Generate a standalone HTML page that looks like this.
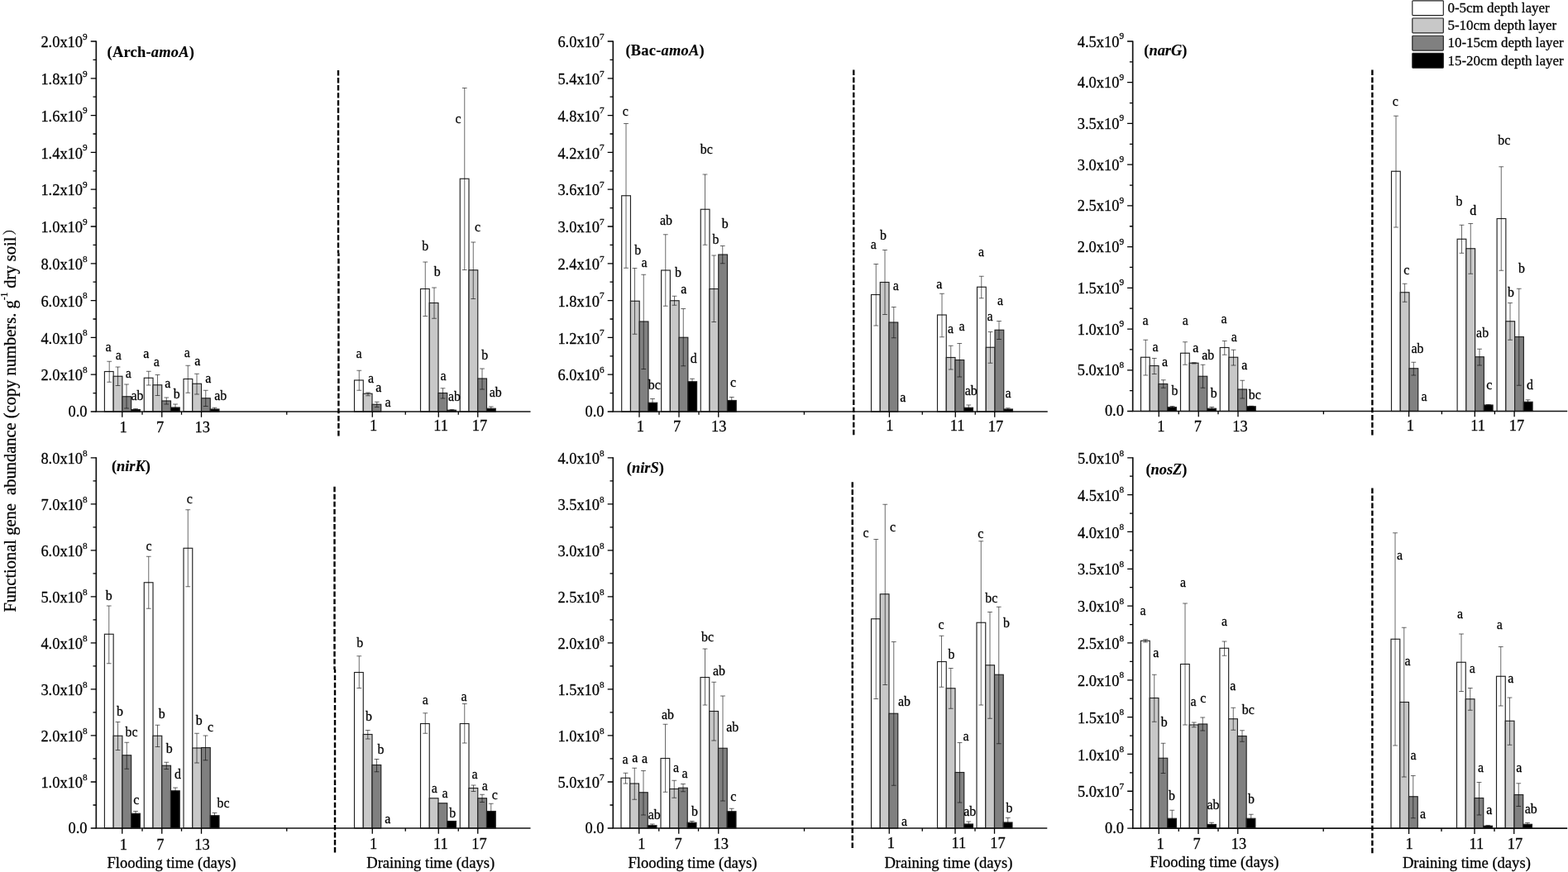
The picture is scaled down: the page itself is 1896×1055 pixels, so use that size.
<!DOCTYPE html>
<html lang="en"><head><meta charset="utf-8"><title>Functional gene abundance</title>
<style>
html,body{margin:0;padding:0;background:#fff;}
body{width:1896px;height:1055px;overflow:hidden;}
svg{display:block;font-family:"Liberation Serif","Noto Serif CJK SC",serif;fill:#000;}
text{stroke:#000;stroke-width:0.26px;stroke-linejoin:round;}
text.ti{stroke-width:0.12px;}
.ax{stroke:#141414;stroke-width:1.7;fill:none;}
.tk{stroke:#000;stroke-width:1.3;fill:none;}
.er{stroke:#000;stroke-opacity:0.62;stroke-width:0.95;fill:none;}
.ds{stroke:#000;stroke-width:2.4;stroke-dasharray:6.4 2.66;fill:none;}
.b{stroke:#222;stroke-width:1.15;}
.yl{font-size:18.4px;text-anchor:end;}
.sp{font-size:11.2px;}
.xl{font-size:18.4px;text-anchor:middle;}
.xt{font-size:18.6px;text-anchor:middle;}
.lt{font-size:15.9px;text-anchor:middle;}
.ti{font-size:18.4px;font-weight:bold;}
.ti .i{font-style:italic;}
.lg{font-size:16.95px;}
.yt{font-size:20.5px;text-anchor:start;}
</style></head><body>
<svg width="1896" height="1055" viewBox="0 0 1896 1055">
<rect x="0" y="0" width="1896" height="1055" fill="#fff"/>
<text class="yt" transform="translate(19.1,740.6) rotate(-90) scale(1,1.07)">Functional gene  abundance (copy numbers. g<tspan dy="-9" style="font-size:11.5px">-1</tspan><tspan dy="9"> dry soil</tspan><tspan dx="2.2" dy="-1.4" style="font-size:15.5px">）</tspan></text>
<g id="P1">
<rect class="b" x="126.4" y="449.5" width="10.75" height="48.5" fill="#ffffff"/>
<rect class="b" x="137.15" y="455.25" width="10.75" height="42.75" fill="#c8c8c8"/>
<rect class="b" x="147.9" y="479.75" width="10.75" height="18.25" fill="#808080"/>
<rect class="b" x="158.65" y="495.6" width="10.75" height="2.4" fill="#000000"/>
<rect class="b" x="174.25" y="457.25" width="10.75" height="40.75" fill="#ffffff"/>
<rect class="b" x="185" y="465.75" width="10.75" height="32.25" fill="#c8c8c8"/>
<rect class="b" x="195.75" y="485" width="10.75" height="13" fill="#808080"/>
<rect class="b" x="206.5" y="493" width="10.75" height="5" fill="#000000"/>
<rect class="b" x="222" y="458.5" width="10.75" height="39.5" fill="#ffffff"/>
<rect class="b" x="232.75" y="464.25" width="10.75" height="33.75" fill="#c8c8c8"/>
<rect class="b" x="243.5" y="481.75" width="10.75" height="16.25" fill="#808080"/>
<rect class="b" x="254.25" y="495" width="10.75" height="3" fill="#000000"/>
<rect class="b" x="428.5" y="460" width="10.75" height="38" fill="#ffffff"/>
<rect class="b" x="439.25" y="476.25" width="10.75" height="21.75" fill="#c8c8c8"/>
<rect class="b" x="450" y="489.25" width="10.75" height="8.75" fill="#808080"/>
<rect class="b" x="508.5" y="349.5" width="10.75" height="148.5" fill="#ffffff"/>
<rect class="b" x="519.25" y="366.5" width="10.75" height="131.5" fill="#c8c8c8"/>
<rect class="b" x="530" y="475.5" width="10.75" height="22.5" fill="#808080"/>
<rect class="b" x="540.75" y="496.25" width="10.75" height="1.75" fill="#000000"/>
<rect class="b" x="556.25" y="216.25" width="10.75" height="281.75" fill="#ffffff"/>
<rect class="b" x="567" y="326.75" width="10.75" height="171.25" fill="#c8c8c8"/>
<rect class="b" x="577.75" y="458" width="10.75" height="40" fill="#808080"/>
<rect class="b" x="588.5" y="494.25" width="10.75" height="3.75" fill="#000000"/>
<path class="er" d="M132.2 437.25V462.25M129.3 437.25h5.8M129.3 462.25h5.8M142.5 444V466.5M139.6 444h5.8M139.6 466.5h5.8M153 465V494M150.1 465h5.8M150.1 494h5.8M164 494.5V497M161.1 494.5h5.8M161.1 497h5.8M179.75 449.25V466M176.85 449.25h5.8M176.85 466h5.8M190.5 453.5V478.5M187.6 453.5h5.8M187.6 478.5h5.8M201.25 481V489M198.35 481h5.8M198.35 489h5.8M212 489V496M209.1 489h5.8M209.1 496h5.8M227.25 442.25V475.25M224.35 442.25h5.8M224.35 475.25h5.8M238 452.25V477M235.1 452.25h5.8M235.1 477h5.8M248.75 472.25V491.5M245.85 472.25h5.8M245.85 491.5h5.8M259.5 493.25V497M256.6 493.25h5.8M256.6 497h5.8M434.25 448.25V472.25M431.35 448.25h5.8M431.35 472.25h5.8M445 475V478.75M442.1 475h5.8M442.1 478.75h5.8M455.75 486.25V492.5M452.85 486.25h5.8M452.85 492.5h5.8M514.25 317V382.5M511.35 317h5.8M511.35 382.5h5.8M525 348V385.25M522.1 348h5.8M522.1 385.25h5.8M535.5 469.75V482M532.6 469.75h5.8M532.6 482h5.8M546.5 495.5V497M543.6 495.5h5.8M543.6 497h5.8M561.75 106.5V326.5M558.85 106.5h5.8M558.85 326.5h5.8M572.25 293V361.5M569.35 293h5.8M569.35 361.5h5.8M583 446V471M580.1 446h5.8M580.1 471h5.8M593.75 492V496M590.85 492h5.8M590.85 496h5.8"/>
<path class="ax" d="M116.3 49.4V498H641.5"/>
<path class="tk" d="M116.3 498h-6.6M116.3 475.6h-3.8M116.3 453.2h-6.6M116.3 430.8h-3.8M116.3 408.4h-6.6M116.3 386h-3.8M116.3 363.6h-6.6M116.3 341.2h-3.8M116.3 318.8h-6.6M116.3 296.4h-3.8M116.3 274h-6.6M116.3 251.6h-3.8M116.3 229.2h-6.6M116.3 206.8h-3.8M116.3 184.4h-6.6M116.3 162h-3.8M116.3 139.6h-6.6M116.3 117.2h-3.8M116.3 94.8h-6.6M116.3 72.4h-3.8M116.3 50h-6.6M147.75 498v6.8M195.75 498v6.8M243.5 498v6.8M450.25 498v6.8M530.25 498v6.8M577.75 498v6.8M172 498v3.8M219.5 498v3.8M346.75 498v3.8M490.25 498v3.8M554.25 498v3.8"/>
<path class="ds" d="M409 85V306.25"/>
<path class="ds" d="M409.4 527.5V306.25"/>
<text class="yl" x="105.5" y="503.8">0.0</text>
<text class="yl" x="105.6" y="460.4">2.0x10<tspan class="sp" dy="-9.5">8</tspan></text>
<text class="yl" x="105.6" y="415.6">4.0x10<tspan class="sp" dy="-9.5">8</tspan></text>
<text class="yl" x="105.6" y="370.8">6.0x10<tspan class="sp" dy="-9.5">8</tspan></text>
<text class="yl" x="105.6" y="326">8.0x10<tspan class="sp" dy="-9.5">8</tspan></text>
<text class="yl" x="105.6" y="281.2">1.0x10<tspan class="sp" dy="-9.5">9</tspan></text>
<text class="yl" x="105.6" y="236.4">1.2x10<tspan class="sp" dy="-9.5">9</tspan></text>
<text class="yl" x="105.6" y="191.6">1.4x10<tspan class="sp" dy="-9.5">9</tspan></text>
<text class="yl" x="105.6" y="146.8">1.6x10<tspan class="sp" dy="-9.5">9</tspan></text>
<text class="yl" x="105.6" y="102">1.8x10<tspan class="sp" dy="-9.5">9</tspan></text>
<text class="yl" x="105.6" y="57.2">2.0x10<tspan class="sp" dy="-9.5">9</tspan></text>
<text class="xl" x="149.2" y="522.6">1</text>
<text class="xl" x="193.6" y="522.6">7</text>
<text class="xl" x="244.7" y="522.6">13</text>
<text class="xl" x="451.5" y="520.6">1</text>
<text class="xl" x="533" y="520.6">11</text>
<text class="xl" x="580" y="521.2">17</text>
<text class="ti" x="129.5" y="69.2" letter-spacing="0.26">(Arch-<tspan class="i">amoA</tspan>)</text>
<text class="lt" x="131" y="424.5">a</text>
<text class="lt" x="143.25" y="435.25">a</text>
<text class="lt" x="155.25" y="456.5">a</text>
<text class="lt" x="166" y="483.5">ab</text>
<text class="lt" x="176.75" y="432.75">a</text>
<text class="lt" x="189.25" y="443">a</text>
<text class="lt" x="202.75" y="469">a</text>
<text class="lt" x="213.75" y="481.5">b</text>
<text class="lt" x="226.25" y="431.5">a</text>
<text class="lt" x="238.75" y="441.5">a</text>
<text class="lt" x="251.75" y="462.75">a</text>
<text class="lt" x="266.75" y="484">ab</text>
<text class="lt" x="434" y="433">a</text>
<text class="lt" x="448.5" y="463.25">a</text>
<text class="lt" x="457.75" y="473.75">a</text>
<text class="lt" x="469" y="492">a</text>
<text class="lt" x="514.25" y="302.5">b</text>
<text class="lt" x="528.75" y="333.75">b</text>
<text class="lt" x="536" y="460">a</text>
<text class="lt" x="549.5" y="485">ab</text>
<text class="lt" x="554" y="149">c</text>
<text class="lt" x="577.5" y="280">c</text>
<text class="lt" x="586.25" y="434.5">b</text>
<text class="lt" x="599.25" y="479.5">ab</text>
</g>
<g id="P2">
<rect class="b" x="751.7" y="236.75" width="10.75" height="261.25" fill="#ffffff"/>
<rect class="b" x="762.45" y="364.25" width="10.75" height="133.75" fill="#c8c8c8"/>
<rect class="b" x="773.2" y="389" width="10.75" height="109" fill="#808080"/>
<rect class="b" x="783.95" y="487.25" width="10.75" height="10.75" fill="#000000"/>
<rect class="b" x="799.6" y="327" width="10.75" height="171" fill="#ffffff"/>
<rect class="b" x="810.35" y="363.75" width="10.75" height="134.25" fill="#c8c8c8"/>
<rect class="b" x="821.1" y="408.25" width="10.75" height="89.75" fill="#808080"/>
<rect class="b" x="831.85" y="461.75" width="10.75" height="36.25" fill="#000000"/>
<rect class="b" x="847.25" y="253.25" width="10.75" height="244.75" fill="#ffffff"/>
<rect class="b" x="858" y="349.5" width="10.75" height="148.5" fill="#c8c8c8"/>
<rect class="b" x="868.75" y="308" width="10.75" height="190" fill="#808080"/>
<rect class="b" x="879.5" y="484.5" width="10.75" height="13.5" fill="#000000"/>
<rect class="b" x="1053.5" y="356.5" width="10.75" height="141.5" fill="#ffffff"/>
<rect class="b" x="1064.25" y="341.5" width="10.75" height="156.5" fill="#c8c8c8"/>
<rect class="b" x="1075" y="390" width="10.75" height="108" fill="#808080"/>
<rect class="b" x="1133.5" y="381" width="10.75" height="117" fill="#ffffff"/>
<rect class="b" x="1144.25" y="432.5" width="10.75" height="65.5" fill="#c8c8c8"/>
<rect class="b" x="1155" y="435.5" width="10.75" height="62.5" fill="#808080"/>
<rect class="b" x="1165.75" y="493.25" width="10.75" height="4.75" fill="#000000"/>
<rect class="b" x="1181.5" y="347.25" width="10.75" height="150.75" fill="#ffffff"/>
<rect class="b" x="1192.25" y="420.25" width="10.75" height="77.75" fill="#c8c8c8"/>
<rect class="b" x="1203" y="399.25" width="10.75" height="98.75" fill="#808080"/>
<rect class="b" x="1213.75" y="495" width="10.75" height="3" fill="#000000"/>
<path class="er" d="M757 149.5V324.25M754.1 149.5h5.8M754.1 324.25h5.8M767.5 324.5V404.25M764.6 324.5h5.8M764.6 404.25h5.8M778.25 332.25V446.5M775.35 332.25h5.8M775.35 446.5h5.8M789 482.5V492M786.1 482.5h5.8M786.1 492h5.8M804.75 283.75V370.25M801.85 283.75h5.8M801.85 370.25h5.8M815.5 358.25V369.25M812.6 358.25h5.8M812.6 369.25h5.8M826.25 373.5V442.75M823.35 373.5h5.8M823.35 442.75h5.8M837 458.25V465M834.1 458.25h5.8M834.1 465h5.8M852.5 211V296.25M849.6 211h5.8M849.6 296.25h5.8M863.25 309V389.5M860.35 309h5.8M860.35 389.5h5.8M873.75 297.5V318.75M870.85 297.5h5.8M870.85 318.75h5.8M884.75 480.5V488M881.85 480.5h5.8M881.85 488h5.8M1059.25 319.5V394M1056.35 319.5h5.8M1056.35 394h5.8M1070 302.5V380.5M1067.1 302.5h5.8M1067.1 380.5h5.8M1080.75 371.5V408.75M1077.85 371.5h5.8M1077.85 408.75h5.8M1139 355.25V407.75M1136.1 355.25h5.8M1136.1 407.75h5.8M1149.75 418.25V447M1146.85 418.25h5.8M1146.85 447h5.8M1160.25 415.5V456M1157.35 415.5h5.8M1157.35 456h5.8M1171.25 490V496M1168.35 490h5.8M1168.35 496h5.8M1186.75 334.25V360.75M1183.85 334.25h5.8M1183.85 360.75h5.8M1197.5 401.5V439.25M1194.6 401.5h5.8M1194.6 439.25h5.8M1208 388.5V410.5M1205.1 388.5h5.8M1205.1 410.5h5.8M1218.75 493.75V496.5M1215.85 493.75h5.8M1215.85 496.5h5.8"/>
<path class="ax" d="M741.3 49.4V498H1266.75"/>
<path class="tk" d="M741.3 498h-6.6M741.3 475.6h-3.8M741.3 453.2h-6.6M741.3 430.8h-3.8M741.3 408.4h-6.6M741.3 386h-3.8M741.3 363.6h-6.6M741.3 341.2h-3.8M741.3 318.8h-6.6M741.3 296.4h-3.8M741.3 274h-6.6M741.3 251.6h-3.8M741.3 229.2h-6.6M741.3 206.8h-3.8M741.3 184.4h-6.6M741.3 162h-3.8M741.3 139.6h-6.6M741.3 117.2h-3.8M741.3 94.8h-6.6M741.3 72.4h-3.8M741.3 50h-6.6M773 498v6.8M821 498v6.8M868.75 498v6.8M1075.4 498v6.8M1155.25 498v6.8M1202.75 498v6.8M797 498v3.8M845 498v3.8M972.4 498v3.8M1115.25 498v3.8M1179.25 498v3.8"/>
<path class="ds" d="M1032.25 84.5V305.38"/>
<path class="ds" d="M1032.25 526.25V305.38"/>
<text class="yl" x="730.5" y="503.8">0.0</text>
<text class="yl" x="730.6" y="460.4">6.0x10<tspan class="sp" dy="-9.5">6</tspan></text>
<text class="yl" x="730.6" y="415.6">1.2x10<tspan class="sp" dy="-9.5">7</tspan></text>
<text class="yl" x="730.6" y="370.8">1.8x10<tspan class="sp" dy="-9.5">7</tspan></text>
<text class="yl" x="730.6" y="326">2.4x10<tspan class="sp" dy="-9.5">7</tspan></text>
<text class="yl" x="730.6" y="281.2">3.0x10<tspan class="sp" dy="-9.5">7</tspan></text>
<text class="yl" x="730.6" y="236.4">3.6x10<tspan class="sp" dy="-9.5">7</tspan></text>
<text class="yl" x="730.6" y="191.6">4.2x10<tspan class="sp" dy="-9.5">7</tspan></text>
<text class="yl" x="730.6" y="146.8">4.8x10<tspan class="sp" dy="-9.5">7</tspan></text>
<text class="yl" x="730.6" y="102">5.4x10<tspan class="sp" dy="-9.5">7</tspan></text>
<text class="yl" x="730.6" y="57.2">6.0x10<tspan class="sp" dy="-9.5">7</tspan></text>
<text class="xl" x="774.4" y="522">1</text>
<text class="xl" x="818.5" y="522">7</text>
<text class="xl" x="869.3" y="522">13</text>
<text class="xl" x="1075.8" y="521">1</text>
<text class="xl" x="1157.5" y="521">11</text>
<text class="xl" x="1204" y="521.9">17</text>
<text class="ti" x="756.4" y="67.4" letter-spacing="0.26">(Bac-<tspan class="i">amoA</tspan>)</text>
<text class="lt" x="756.25" y="140">c</text>
<text class="lt" x="771.25" y="308">b</text>
<text class="lt" x="779" y="322.5">a</text>
<text class="lt" x="791.25" y="470.5">bc</text>
<text class="lt" x="805.5" y="272">ab</text>
<text class="lt" x="820" y="334.5">b</text>
<text class="lt" x="826.75" y="355">a</text>
<text class="lt" x="838.75" y="439.25">d</text>
<text class="lt" x="854.25" y="185.75">bc</text>
<text class="lt" x="865.5" y="295">b</text>
<text class="lt" x="876.75" y="276.25">b</text>
<text class="lt" x="886.5" y="468.25">c</text>
<text class="lt" x="1056.25" y="300.5">a</text>
<text class="lt" x="1068" y="290">b</text>
<text class="lt" x="1083.25" y="350.75">a</text>
<text class="lt" x="1091.75" y="485.5">a</text>
<text class="lt" x="1135.75" y="349.25">a</text>
<text class="lt" x="1149.5" y="402.5">a</text>
<text class="lt" x="1163" y="400">a</text>
<text class="lt" x="1174.25" y="478">ab</text>
<text class="lt" x="1186.5" y="310">a</text>
<text class="lt" x="1197" y="388">a</text>
<text class="lt" x="1209.5" y="368.75">a</text>
<text class="lt" x="1219" y="480.5">a</text>
</g>
<g id="P3">
<rect class="b" x="1379.5" y="432.25" width="10.75" height="65.25" fill="#ffffff"/>
<rect class="b" x="1390.25" y="442.5" width="10.75" height="55" fill="#c8c8c8"/>
<rect class="b" x="1401" y="464.5" width="10.75" height="33" fill="#808080"/>
<rect class="b" x="1411.75" y="492.75" width="10.75" height="4.75" fill="#000000"/>
<rect class="b" x="1427.5" y="427.25" width="10.75" height="70.25" fill="#ffffff"/>
<rect class="b" x="1438.25" y="439.25" width="10.75" height="58.25" fill="#c8c8c8"/>
<rect class="b" x="1449" y="455.25" width="10.75" height="42.25" fill="#808080"/>
<rect class="b" x="1459.75" y="494.25" width="10.75" height="3.25" fill="#000000"/>
<rect class="b" x="1475.25" y="420.5" width="10.75" height="77" fill="#ffffff"/>
<rect class="b" x="1486" y="432.25" width="10.75" height="65.25" fill="#c8c8c8"/>
<rect class="b" x="1496.75" y="471" width="10.75" height="26.5" fill="#808080"/>
<rect class="b" x="1507.5" y="491.75" width="10.75" height="5.75" fill="#000000"/>
<rect class="b" x="1682.5" y="207.25" width="10.75" height="290.25" fill="#ffffff"/>
<rect class="b" x="1693.25" y="353.75" width="10.75" height="143.75" fill="#c8c8c8"/>
<rect class="b" x="1704" y="445.75" width="10.75" height="51.75" fill="#808080"/>
<rect class="b" x="1762.1" y="289.25" width="10.75" height="208.25" fill="#ffffff"/>
<rect class="b" x="1772.85" y="300.75" width="10.75" height="196.75" fill="#c8c8c8"/>
<rect class="b" x="1783.6" y="431.75" width="10.75" height="65.75" fill="#808080"/>
<rect class="b" x="1794.35" y="490" width="10.75" height="7.5" fill="#000000"/>
<rect class="b" x="1810.1" y="264.5" width="10.75" height="233" fill="#ffffff"/>
<rect class="b" x="1820.85" y="388.75" width="10.75" height="108.75" fill="#c8c8c8"/>
<rect class="b" x="1831.6" y="407.5" width="10.75" height="90" fill="#808080"/>
<rect class="b" x="1842.35" y="486.25" width="10.75" height="11.25" fill="#000000"/>
<path class="er" d="M1385.25 411.25V454M1382.35 411.25h5.8M1382.35 454h5.8M1395.75 433.5V452.5M1392.85 433.5h5.8M1392.85 452.5h5.8M1406.75 459.75V469.25M1403.85 459.75h5.8M1403.85 469.25h5.8M1417.5 491.5V494M1414.6 491.5h5.8M1414.6 494h5.8M1433 413.75V441.25M1430.1 413.75h5.8M1430.1 441.25h5.8M1443.75 438.75V440M1440.85 438.75h5.8M1440.85 440h5.8M1454.5 441.25V469.25M1451.6 441.25h5.8M1451.6 469.25h5.8M1465.25 492.5V496M1462.35 492.5h5.8M1462.35 496h5.8M1480.75 412.5V429.25M1477.85 412.5h5.8M1477.85 429.25h5.8M1491.5 423.25V442M1488.6 423.25h5.8M1488.6 442h5.8M1502.25 460.25V482M1499.35 460.25h5.8M1499.35 482h5.8M1513 491.25V492.5M1510.1 491.25h5.8M1510.1 492.5h5.8M1688 140.25V275M1685.1 140.25h5.8M1685.1 275h5.8M1698.6 343.25V365.25M1695.7 343.25h5.8M1695.7 365.25h5.8M1709.3 438.25V454M1706.4 438.25h5.8M1706.4 454h5.8M1767.5 272.25V306.25M1764.6 272.25h5.8M1764.6 306.25h5.8M1778.25 270.5V331.25M1775.35 270.5h5.8M1775.35 331.25h5.8M1789 422.25V442M1786.1 422.25h5.8M1786.1 442h5.8M1799.75 489.5V491M1796.85 489.5h5.8M1796.85 491h5.8M1815.25 201.75V327.25M1812.35 201.75h5.8M1812.35 327.25h5.8M1826 366.5V411.25M1823.1 366.5h5.8M1823.1 411.25h5.8M1836.75 349.25V466.25M1833.85 349.25h5.8M1833.85 466.25h5.8M1847.5 483.75V489M1844.6 483.75h5.8M1844.6 489h5.8"/>
<path class="ax" d="M1369.7 49.4V497.5H1895.2"/>
<path class="tk" d="M1369.7 497.5h-6.6M1369.7 472.64h-3.8M1369.7 447.78h-6.6M1369.7 422.92h-3.8M1369.7 398.06h-6.6M1369.7 373.19h-3.8M1369.7 348.33h-6.6M1369.7 323.47h-3.8M1369.7 298.61h-6.6M1369.7 273.75h-3.8M1369.7 248.89h-6.6M1369.7 224.03h-3.8M1369.7 199.17h-6.6M1369.7 174.31h-3.8M1369.7 149.44h-6.6M1369.7 124.58h-3.8M1369.7 99.72h-6.6M1369.7 74.86h-3.8M1369.7 50h-6.6M1401.25 497.5v6.8M1449.25 497.5v6.8M1497 497.5v6.8M1703.6 497.5v6.8M1783.3 497.5v6.8M1831.1 497.5v6.8M1425.25 497.5v3.8M1473 497.5v3.8M1600.4 497.5v3.8M1743.4 497.5v3.8M1807.4 497.5v3.8"/>
<path class="ds" d="M1659.4 84.5V305.5"/>
<path class="ds" d="M1659.4 526.5V305.5"/>
<text class="yl" x="1358.9" y="502.6">0.0</text>
<text class="yl" x="1359" y="454.28">5.0x10<tspan class="sp" dy="-9.5">8</tspan></text>
<text class="yl" x="1359" y="404.56">1.0x10<tspan class="sp" dy="-9.5">9</tspan></text>
<text class="yl" x="1359" y="354.83">1.5x10<tspan class="sp" dy="-9.5">9</tspan></text>
<text class="yl" x="1359" y="305.11">2.0x10<tspan class="sp" dy="-9.5">9</tspan></text>
<text class="yl" x="1359" y="255.39">2.5x10<tspan class="sp" dy="-9.5">9</tspan></text>
<text class="yl" x="1359" y="205.67">3.0x10<tspan class="sp" dy="-9.5">9</tspan></text>
<text class="yl" x="1359" y="155.94">3.5x10<tspan class="sp" dy="-9.5">9</tspan></text>
<text class="yl" x="1359" y="106.22">4.0x10<tspan class="sp" dy="-9.5">9</tspan></text>
<text class="yl" x="1359" y="56.5">4.5x10<tspan class="sp" dy="-9.5">9</tspan></text>
<text class="xl" x="1403.75" y="521.9">1</text>
<text class="xl" x="1448.25" y="521.9">7</text>
<text class="xl" x="1499.5" y="521.9">13</text>
<text class="xl" x="1705.3" y="520.8">1</text>
<text class="xl" x="1787.2" y="520.8">11</text>
<text class="xl" x="1833.9" y="521.3">17</text>
<text class="ti" x="1383.3" y="66.9">(<tspan class="i">narG</tspan>)</text>
<text class="lt" x="1385" y="392.5">a</text>
<text class="lt" x="1397" y="425">a</text>
<text class="lt" x="1408.5" y="443.25">a</text>
<text class="lt" x="1420.5" y="477.5">b</text>
<text class="lt" x="1433.25" y="393">a</text>
<text class="lt" x="1445.75" y="425.75">a</text>
<text class="lt" x="1460.75" y="435">ab</text>
<text class="lt" x="1467.75" y="481">b</text>
<text class="lt" x="1480" y="390.5">a</text>
<text class="lt" x="1492.25" y="412.5">a</text>
<text class="lt" x="1504.75" y="447">a</text>
<text class="lt" x="1517.25" y="482.5">bc</text>
<text class="lt" x="1687.25" y="127.5">c</text>
<text class="lt" x="1700.75" y="331.75">c</text>
<text class="lt" x="1714" y="427.25">ab</text>
<text class="lt" x="1722" y="485">a</text>
<text class="lt" x="1764.5" y="249.25">b</text>
<text class="lt" x="1781.3" y="260">d</text>
<text class="lt" x="1792.6" y="408.25">ab</text>
<text class="lt" x="1800.9" y="470.5">c</text>
<text class="lt" x="1818.8" y="175">bc</text>
<text class="lt" x="1827.1" y="359">b</text>
<text class="lt" x="1840.1" y="329.75">b</text>
<text class="lt" x="1850.1" y="470.5">d</text>
</g>
<g id="P4">
<rect class="b" x="126.4" y="767.25" width="10.75" height="234.75" fill="#ffffff"/>
<rect class="b" x="137.15" y="890.25" width="10.75" height="111.75" fill="#c8c8c8"/>
<rect class="b" x="147.9" y="913.75" width="10.75" height="88.25" fill="#808080"/>
<rect class="b" x="158.65" y="984.25" width="10.75" height="17.75" fill="#000000"/>
<rect class="b" x="174.25" y="704.75" width="10.75" height="297.25" fill="#ffffff"/>
<rect class="b" x="185" y="890.25" width="10.75" height="111.75" fill="#c8c8c8"/>
<rect class="b" x="195.75" y="926.25" width="10.75" height="75.75" fill="#808080"/>
<rect class="b" x="206.5" y="956.75" width="10.75" height="45.25" fill="#000000"/>
<rect class="b" x="222" y="663.25" width="10.75" height="338.75" fill="#ffffff"/>
<rect class="b" x="232.75" y="905" width="10.75" height="97" fill="#c8c8c8"/>
<rect class="b" x="243.5" y="904.5" width="10.75" height="97.5" fill="#808080"/>
<rect class="b" x="254.25" y="986.75" width="10.75" height="15.25" fill="#000000"/>
<rect class="b" x="428.5" y="813.5" width="10.75" height="188.5" fill="#ffffff"/>
<rect class="b" x="439.25" y="888.5" width="10.75" height="113.5" fill="#c8c8c8"/>
<rect class="b" x="450" y="925.5" width="10.75" height="76.5" fill="#808080"/>
<rect class="b" x="508.5" y="875.5" width="10.75" height="126.5" fill="#ffffff"/>
<rect class="b" x="519.25" y="965.75" width="10.75" height="36.25" fill="#c8c8c8"/>
<rect class="b" x="530" y="971.75" width="10.75" height="30.25" fill="#808080"/>
<rect class="b" x="540.75" y="993.5" width="10.75" height="8.5" fill="#000000"/>
<rect class="b" x="556.25" y="875.5" width="10.75" height="126.5" fill="#ffffff"/>
<rect class="b" x="567" y="953.5" width="10.75" height="48.5" fill="#c8c8c8"/>
<rect class="b" x="577.75" y="965.75" width="10.75" height="36.25" fill="#808080"/>
<rect class="b" x="588.5" y="981.5" width="10.75" height="20.5" fill="#000000"/>
<path class="er" d="M131.75 733V802.75M128.85 733h5.8M128.85 802.75h5.8M142.5 873.5V907.5M139.6 873.5h5.8M139.6 907.5h5.8M153.25 898.25V930.25M150.35 898.25h5.8M150.35 930.25h5.8M164 981.5V987M161.1 981.5h5.8M161.1 987h5.8M179.75 673.25V736.25M176.85 673.25h5.8M176.85 736.25h5.8M190.5 877.25V903.5M187.6 877.25h5.8M187.6 903.5h5.8M201.25 922.25V930.5M198.35 922.25h5.8M198.35 930.5h5.8M212 953V960M209.1 953h5.8M209.1 960h5.8M227.25 616.75V709.75M224.35 616.75h5.8M224.35 709.75h5.8M238 887.25V923M235.1 887.25h5.8M235.1 923h5.8M248.5 890V919.75M245.6 890h5.8M245.6 919.75h5.8M259.5 983.5V990M256.6 983.5h5.8M256.6 990h5.8M434.25 793.75V832.5M431.35 793.75h5.8M431.35 832.5h5.8M444.75 883.5V894M441.85 883.5h5.8M441.85 894h5.8M455.5 918.5V933.75M452.6 918.5h5.8M452.6 933.75h5.8M514.25 862.75V887.25M511.35 862.75h5.8M511.35 887.25h5.8M561.75 851.5V899M558.85 851.5h5.8M558.85 899h5.8M572.5 950V957.5M569.6 950h5.8M569.6 957.5h5.8M583 961.25V970.5M580.1 961.25h5.8M580.1 970.5h5.8M593.75 972.25V990M590.85 972.25h5.8M590.85 990h5.8"/>
<path class="ax" d="M116.3 553.2V1002H641.5"/>
<path class="tk" d="M116.3 1002h-6.6M116.3 973.99h-3.8M116.3 945.98h-6.6M116.3 917.96h-3.8M116.3 889.95h-6.6M116.3 861.94h-3.8M116.3 833.92h-6.6M116.3 805.91h-3.8M116.3 777.9h-6.6M116.3 749.89h-3.8M116.3 721.88h-6.6M116.3 693.86h-3.8M116.3 665.85h-6.6M116.3 637.84h-3.8M116.3 609.82h-6.6M116.3 581.81h-3.8M116.3 553.8h-6.6M147.75 1002v6.8M195.75 1002v6.8M243.5 1002v6.8M450.25 1002v6.8M530.25 1002v6.8M577.75 1002v6.8M172 1002v3.8M219.5 1002v3.8M346.75 1002v3.8M490.25 1002v3.8M554.25 1002v3.8"/>
<path class="ds" d="M404.5 588.75V810.12"/>
<path class="ds" d="M405 1031.5V810.12"/>
<text class="yl" x="105.5" y="1007.8">0.0</text>
<text class="yl" x="105.6" y="953.18">1.0x10<tspan class="sp" dy="-9.5">8</tspan></text>
<text class="yl" x="105.6" y="897.15">2.0x10<tspan class="sp" dy="-9.5">8</tspan></text>
<text class="yl" x="105.6" y="841.12">3.0x10<tspan class="sp" dy="-9.5">8</tspan></text>
<text class="yl" x="105.6" y="785.1">4.0x10<tspan class="sp" dy="-9.5">8</tspan></text>
<text class="yl" x="105.6" y="729.08">5.0x10<tspan class="sp" dy="-9.5">8</tspan></text>
<text class="yl" x="105.6" y="673.05">6.0x10<tspan class="sp" dy="-9.5">8</tspan></text>
<text class="yl" x="105.6" y="617.02">7.0x10<tspan class="sp" dy="-9.5">8</tspan></text>
<text class="yl" x="105.6" y="561">8.0x10<tspan class="sp" dy="-9.5">8</tspan></text>
<text class="xl" x="149.25" y="1027.6">1</text>
<text class="xl" x="193.75" y="1027.6">7</text>
<text class="xl" x="244.5" y="1027.6">13</text>
<text class="xl" x="451.5" y="1026.7">1</text>
<text class="xl" x="532.75" y="1026.7">11</text>
<text class="xl" x="579.5" y="1026.7">17</text>
<text class="xt" x="207.5" y="1050.3">Flooding time (days)</text>
<text class="xt" x="520.7" y="1050.2">Draining time (days)</text>
<text class="ti" x="134.9" y="569.7">(<tspan class="i">nirK</tspan>)</text>
<text class="lt" x="131.75" y="726">b</text>
<text class="lt" x="145" y="865.5">b</text>
<text class="lt" x="159" y="891">bc</text>
<text class="lt" x="164.75" y="972.75">c</text>
<text class="lt" x="180" y="665.5">c</text>
<text class="lt" x="195.75" y="869">b</text>
<text class="lt" x="204.75" y="910.5">b</text>
<text class="lt" x="215" y="942.25">d</text>
<text class="lt" x="229.25" y="609.25">c</text>
<text class="lt" x="240.75" y="876.75">b</text>
<text class="lt" x="254.5" y="884.75">c</text>
<text class="lt" x="270" y="976.75">bc</text>
<text class="lt" x="435.25" y="783">b</text>
<text class="lt" x="446" y="871.5">b</text>
<text class="lt" x="460.5" y="912.25">b</text>
<text class="lt" x="468.75" y="996">a</text>
<text class="lt" x="514.25" y="852.25">a</text>
<text class="lt" x="525.25" y="959.25">a</text>
<text class="lt" x="538" y="965.25">a</text>
<text class="lt" x="547.25" y="988.5">b</text>
<text class="lt" x="561" y="848">a</text>
<text class="lt" x="574" y="941.5">a</text>
<text class="lt" x="586.25" y="955.5">a</text>
<text class="lt" x="598.25" y="966.75">c</text>
</g>
<g id="P5">
<rect class="b" x="751" y="941.25" width="10.75" height="60.75" fill="#ffffff"/>
<rect class="b" x="761.75" y="948" width="10.75" height="54" fill="#c8c8c8"/>
<rect class="b" x="772.5" y="958.75" width="10.75" height="43.25" fill="#808080"/>
<rect class="b" x="783.25" y="998.75" width="10.75" height="3.25" fill="#000000"/>
<rect class="b" x="799" y="917.5" width="10.75" height="84.5" fill="#ffffff"/>
<rect class="b" x="809.75" y="954.5" width="10.75" height="47.5" fill="#c8c8c8"/>
<rect class="b" x="820.5" y="953.25" width="10.75" height="48.75" fill="#808080"/>
<rect class="b" x="831.25" y="995.25" width="10.75" height="6.75" fill="#000000"/>
<rect class="b" x="847" y="819.5" width="10.75" height="182.5" fill="#ffffff"/>
<rect class="b" x="857.75" y="860.5" width="10.75" height="141.5" fill="#c8c8c8"/>
<rect class="b" x="868.5" y="905.25" width="10.75" height="96.75" fill="#808080"/>
<rect class="b" x="879.25" y="981.75" width="10.75" height="20.25" fill="#000000"/>
<rect class="b" x="1053.5" y="748.75" width="10.75" height="253.25" fill="#ffffff"/>
<rect class="b" x="1064.25" y="718.75" width="10.75" height="283.25" fill="#c8c8c8"/>
<rect class="b" x="1075" y="863.25" width="10.75" height="138.75" fill="#808080"/>
<rect class="b" x="1133.5" y="800.5" width="10.75" height="201.5" fill="#ffffff"/>
<rect class="b" x="1144.25" y="832.75" width="10.75" height="169.25" fill="#c8c8c8"/>
<rect class="b" x="1155" y="934.5" width="10.75" height="67.5" fill="#808080"/>
<rect class="b" x="1165.75" y="997" width="10.75" height="5" fill="#000000"/>
<rect class="b" x="1181" y="753.25" width="10.75" height="248.75" fill="#ffffff"/>
<rect class="b" x="1191.75" y="804.75" width="10.75" height="197.25" fill="#c8c8c8"/>
<rect class="b" x="1202.5" y="816.25" width="10.75" height="185.75" fill="#808080"/>
<rect class="b" x="1213.25" y="995" width="10.75" height="7" fill="#000000"/>
<path class="er" d="M756.5 935.25V948M753.6 935.25h5.8M753.6 948h5.8M767.25 929.25V967.25M764.35 929.25h5.8M764.35 967.25h5.8M778 932.5V986M775.1 932.5h5.8M775.1 986h5.8M788.75 997V1000M785.85 997h5.8M785.85 1000h5.8M804.5 876.25V958.25M801.6 876.25h5.8M801.6 958.25h5.8M815.25 944.25V965.25M812.35 944.25h5.8M812.35 965.25h5.8M826 948.5V957.75M823.1 948.5h5.8M823.1 957.75h5.8M836.75 993.5V997M833.85 993.5h5.8M833.85 997h5.8M852.5 785V853M849.6 785h5.8M849.6 853h5.8M863.25 825.25V896M860.35 825.25h5.8M860.35 896h5.8M874 842V969M871.1 842h5.8M871.1 969h5.8M884.75 978.25V985M881.85 978.25h5.8M881.85 985h5.8M1059.25 652.5V845.5M1056.35 652.5h5.8M1056.35 845.5h5.8M1070.25 610.25V828.5M1067.35 610.25h5.8M1067.35 828.5h5.8M1080.75 776.5V950.25M1077.85 776.5h5.8M1077.85 950.25h5.8M1138.5 769.25V831.25M1135.6 769.25h5.8M1135.6 831.25h5.8M1149.75 808.5V857.25M1146.85 808.5h5.8M1146.85 857.25h5.8M1160.5 898.5V971M1157.6 898.5h5.8M1157.6 971h5.8M1171.25 994V1000M1168.35 994h5.8M1168.35 1000h5.8M1186.25 654.75V853M1183.35 654.75h5.8M1183.35 853h5.8M1197 740.5V869.25M1194.1 740.5h5.8M1194.1 869.25h5.8M1207.75 734.25V899.75M1204.85 734.25h5.8M1204.85 899.75h5.8M1218.75 989.5V1000M1215.85 989.5h5.8M1215.85 1000h5.8"/>
<path class="ax" d="M741.3 553.2V1002H1266.25"/>
<path class="tk" d="M741.3 1002h-6.6M741.3 973.99h-3.8M741.3 945.98h-6.6M741.3 917.96h-3.8M741.3 889.95h-6.6M741.3 861.94h-3.8M741.3 833.92h-6.6M741.3 805.91h-3.8M741.3 777.9h-6.6M741.3 749.89h-3.8M741.3 721.88h-6.6M741.3 693.86h-3.8M741.3 665.85h-6.6M741.3 637.84h-3.8M741.3 609.82h-6.6M741.3 581.81h-3.8M741.3 553.8h-6.6M772.75 1002v6.8M820.75 1002v6.8M868.75 1002v6.8M1075.25 1002v6.8M1155 1002v6.8M1202.5 1002v6.8M796.75 1002v3.8M844.5 1002v3.8M972.5 1002v3.8M1115.25 1002v3.8M1179 1002v3.8"/>
<path class="ds" d="M1030.75 583.25V804.62"/>
<path class="ds" d="M1030.75 1026V804.62"/>
<text class="yl" x="730.5" y="1007.8">0.0</text>
<text class="yl" x="730.6" y="953.18">5.0x10<tspan class="sp" dy="-9.5">7</tspan></text>
<text class="yl" x="730.6" y="897.15">1.0x10<tspan class="sp" dy="-9.5">8</tspan></text>
<text class="yl" x="730.6" y="841.12">1.5x10<tspan class="sp" dy="-9.5">8</tspan></text>
<text class="yl" x="730.6" y="785.1">2.0x10<tspan class="sp" dy="-9.5">8</tspan></text>
<text class="yl" x="730.6" y="729.08">2.5x10<tspan class="sp" dy="-9.5">8</tspan></text>
<text class="yl" x="730.6" y="673.05">3.0x10<tspan class="sp" dy="-9.5">8</tspan></text>
<text class="yl" x="730.6" y="617.02">3.5x10<tspan class="sp" dy="-9.5">8</tspan></text>
<text class="yl" x="730.6" y="561">4.0x10<tspan class="sp" dy="-9.5">8</tspan></text>
<text class="xl" x="775.75" y="1027">1</text>
<text class="xl" x="820" y="1027">7</text>
<text class="xl" x="871.75" y="1027">13</text>
<text class="xl" x="1077.4" y="1026">1</text>
<text class="xl" x="1159.3" y="1026">11</text>
<text class="xl" x="1206.4" y="1026">17</text>
<text class="xt" x="837.5" y="1049.75">Flooding time (days)</text>
<text class="xt" x="1146.9" y="1049.75">Draining time (days)</text>
<text class="ti" x="757.8" y="571.6">(<tspan class="i">nirS</tspan>)</text>
<text class="lt" x="756" y="924">a</text>
<text class="lt" x="767.75" y="921.5">a</text>
<text class="lt" x="779.5" y="922.5">a</text>
<text class="lt" x="791.25" y="991">ab</text>
<text class="lt" x="807.5" y="870.25">ab</text>
<text class="lt" x="817.5" y="934.25">a</text>
<text class="lt" x="828" y="940.5">a</text>
<text class="lt" x="840" y="986.75">b</text>
<text class="lt" x="855.5" y="775.5">bc</text>
<text class="lt" x="869.5" y="816.5">ab</text>
<text class="lt" x="885.75" y="884.75">ab</text>
<text class="lt" x="886.75" y="969.25">c</text>
<text class="lt" x="1047" y="650">c</text>
<text class="lt" x="1079.5" y="642.5">c</text>
<text class="lt" x="1093.5" y="853.5">ab</text>
<text class="lt" x="1093.5" y="998.5">a</text>
<text class="lt" x="1138" y="760.5">c</text>
<text class="lt" x="1150.5" y="796.5">b</text>
<text class="lt" x="1168" y="896">a</text>
<text class="lt" x="1172.75" y="986.75">ab</text>
<text class="lt" x="1185.75" y="651">c</text>
<text class="lt" x="1198.75" y="729.25">bc</text>
<text class="lt" x="1217" y="758.5">b</text>
<text class="lt" x="1220.5" y="982.75">b</text>
</g>
<g id="P6">
<rect class="b" x="1379.5" y="775.25" width="10.75" height="226.85" fill="#ffffff"/>
<rect class="b" x="1390.25" y="844.5" width="10.75" height="157.6" fill="#c8c8c8"/>
<rect class="b" x="1401" y="917.25" width="10.75" height="84.85" fill="#808080"/>
<rect class="b" x="1411.75" y="990.25" width="10.75" height="11.85" fill="#000000"/>
<rect class="b" x="1427.5" y="803.5" width="10.75" height="198.6" fill="#ffffff"/>
<rect class="b" x="1438.25" y="877" width="10.75" height="125.1" fill="#c8c8c8"/>
<rect class="b" x="1449" y="876" width="10.75" height="126.1" fill="#808080"/>
<rect class="b" x="1459.75" y="997.5" width="10.75" height="4.6" fill="#000000"/>
<rect class="b" x="1474.9" y="784.25" width="10.75" height="217.85" fill="#ffffff"/>
<rect class="b" x="1485.65" y="869.75" width="10.75" height="132.35" fill="#c8c8c8"/>
<rect class="b" x="1496.4" y="890.5" width="10.75" height="111.6" fill="#808080"/>
<rect class="b" x="1507.15" y="990.25" width="10.75" height="11.85" fill="#000000"/>
<rect class="b" x="1682" y="773.25" width="10.75" height="228.85" fill="#ffffff"/>
<rect class="b" x="1692.75" y="849.5" width="10.75" height="152.6" fill="#c8c8c8"/>
<rect class="b" x="1703.5" y="963.75" width="10.75" height="38.35" fill="#808080"/>
<rect class="b" x="1761.5" y="801.25" width="10.75" height="200.85" fill="#ffffff"/>
<rect class="b" x="1772.25" y="845.75" width="10.75" height="156.35" fill="#c8c8c8"/>
<rect class="b" x="1783" y="965.5" width="10.75" height="36.6" fill="#808080"/>
<rect class="b" x="1793.75" y="999.25" width="10.75" height="2.85" fill="#000000"/>
<rect class="b" x="1809.5" y="818.25" width="10.75" height="183.85" fill="#ffffff"/>
<rect class="b" x="1820.25" y="872.25" width="10.75" height="129.85" fill="#c8c8c8"/>
<rect class="b" x="1831" y="961.5" width="10.75" height="40.6" fill="#808080"/>
<rect class="b" x="1841.75" y="997.3" width="10.75" height="4.8" fill="#000000"/>
<path class="er" d="M1385 773.75V777M1382.1 773.75h5.8M1382.1 777h5.8M1395.75 816.25V873.25M1392.85 816.25h5.8M1392.85 873.25h5.8M1406.5 899.25V935.5M1403.6 899.25h5.8M1403.6 935.5h5.8M1417.25 980.25V1000M1414.35 980.25h5.8M1414.35 1000h5.8M1433 730V877M1430.1 730h5.8M1430.1 877h5.8M1443.75 874V879.75M1440.85 874h5.8M1440.85 879.75h5.8M1454.25 868V884M1451.35 868h5.8M1451.35 884h5.8M1465 995.25V999.5M1462.1 995.25h5.8M1462.1 999.5h5.8M1480.5 776V793.25M1477.6 776h5.8M1477.6 793.25h5.8M1491.25 856.25V883.25M1488.35 856.25h5.8M1488.35 883.25h5.8M1502 883.75V897.25M1499.1 883.75h5.8M1499.1 897.25h5.8M1512.75 985.25V995M1509.85 985.25h5.8M1509.85 995h5.8M1687 644.75V902M1684.1 644.75h5.8M1684.1 902h5.8M1697.75 759.25V940M1694.85 759.25h5.8M1694.85 940h5.8M1708.75 938.5V989.75M1705.85 938.5h5.8M1705.85 989.75h5.8M1767 767V836.5M1764.1 767h5.8M1764.1 836.5h5.8M1777.75 832.5V859.25M1774.85 832.5h5.8M1774.85 859.25h5.8M1788.5 946.5V986M1785.6 946.5h5.8M1785.6 986h5.8M1799.25 998.5V1000M1796.35 998.5h5.8M1796.35 1000h5.8M1814.75 782.5V854M1811.85 782.5h5.8M1811.85 854h5.8M1825.5 844V901.25M1822.6 844h5.8M1822.6 901.25h5.8M1836.25 947.75V975.5M1833.35 947.75h5.8M1833.35 975.5h5.8M1847 995.5V998M1844.1 995.5h5.8M1844.1 998h5.8"/>
<path class="ax" d="M1369.8 553.2V1002.1H1895.2"/>
<path class="tk" d="M1369.8 1002.1h-6.6M1369.8 979.69h-3.8M1369.8 957.27h-6.6M1369.8 934.86h-3.8M1369.8 912.44h-6.6M1369.8 890.03h-3.8M1369.8 867.61h-6.6M1369.8 845.2h-3.8M1369.8 822.78h-6.6M1369.8 800.37h-3.8M1369.8 777.95h-6.6M1369.8 755.54h-3.8M1369.8 733.12h-6.6M1369.8 710.71h-3.8M1369.8 688.29h-6.6M1369.8 665.88h-3.8M1369.8 643.46h-6.6M1369.8 621.05h-3.8M1369.8 598.63h-6.6M1369.8 576.22h-3.8M1369.8 553.8h-6.6M1401.25 1002.1v6.8M1449 1002.1v6.8M1496.75 1002.1v6.8M1703.6 1002.1v6.8M1783 1002.1v6.8M1830.75 1002.1v6.8M1425.25 1002.1v3.8M1473 1002.1v3.8M1600.2 1002.1v3.8M1743 1002.1v3.8M1807 1002.1v3.8"/>
<path class="ds" d="M1659.4 590.5V811.38"/>
<path class="ds" d="M1659.4 1032.25V811.38"/>
<text class="yl" x="1359" y="1007.9">0.0</text>
<text class="yl" x="1359.1" y="964.47">5.0x10<tspan class="sp" dy="-9.5">7</tspan></text>
<text class="yl" x="1359.1" y="919.64">1.0x10<tspan class="sp" dy="-9.5">8</tspan></text>
<text class="yl" x="1359.1" y="874.81">1.5x10<tspan class="sp" dy="-9.5">8</tspan></text>
<text class="yl" x="1359.1" y="829.98">2.0x10<tspan class="sp" dy="-9.5">8</tspan></text>
<text class="yl" x="1359.1" y="785.15">2.5x10<tspan class="sp" dy="-9.5">8</tspan></text>
<text class="yl" x="1359.1" y="740.32">3.0x10<tspan class="sp" dy="-9.5">8</tspan></text>
<text class="yl" x="1359.1" y="695.49">3.5x10<tspan class="sp" dy="-9.5">8</tspan></text>
<text class="yl" x="1359.1" y="650.66">4.0x10<tspan class="sp" dy="-9.5">8</tspan></text>
<text class="yl" x="1359.1" y="605.83">4.5x10<tspan class="sp" dy="-9.5">8</tspan></text>
<text class="yl" x="1359.1" y="561">5.0x10<tspan class="sp" dy="-9.5">8</tspan></text>
<text class="xl" x="1403" y="1027">1</text>
<text class="xl" x="1447" y="1027">7</text>
<text class="xl" x="1498" y="1027">13</text>
<text class="xl" x="1704.2" y="1026.5">1</text>
<text class="xl" x="1785.25" y="1026.5">11</text>
<text class="xl" x="1832" y="1026.5">17</text>
<text class="xt" x="1468.4" y="1048.6">Flooding time (days)</text>
<text class="xt" x="1773.4" y="1049.75">Draining time (days)</text>
<text class="ti" x="1385.4" y="573.7">(<tspan class="i">nosZ</tspan>)</text>
<text class="lt" x="1382" y="744.25">a</text>
<text class="lt" x="1397.75" y="794.75">a</text>
<text class="lt" x="1407.75" y="879">b</text>
<text class="lt" x="1417" y="967.75">b</text>
<text class="lt" x="1430.5" y="710">a</text>
<text class="lt" x="1443" y="853.5">a</text>
<text class="lt" x="1454.75" y="850.25">c</text>
<text class="lt" x="1467" y="979">ab</text>
<text class="lt" x="1480.5" y="756.75">a</text>
<text class="lt" x="1490.75" y="835.25">a</text>
<text class="lt" x="1509.25" y="863.5">bc</text>
<text class="lt" x="1513" y="971.5">b</text>
<text class="lt" x="1692.5" y="676.75">a</text>
<text class="lt" x="1702" y="804.75">a</text>
<text class="lt" x="1709" y="919.25">a</text>
<text class="lt" x="1720.5" y="989.75">a</text>
<text class="lt" x="1765.5" y="747.5">a</text>
<text class="lt" x="1780.25" y="813.5">a</text>
<text class="lt" x="1790.5" y="934">a</text>
<text class="lt" x="1800.75" y="984.75">a</text>
<text class="lt" x="1813.25" y="760.5">a</text>
<text class="lt" x="1826.75" y="825.5">a</text>
<text class="lt" x="1836.75" y="933.5">a</text>
<text class="lt" x="1851.25" y="983.5">ab</text>
</g>
<g id="legend">
<rect class="b" rx="0.8" x="1707.8" y="0.8" width="37.5" height="17.8" fill="#ffffff"/>
<text class="lg" x="1750.5" y="14.9">0-5cm depth layer</text>
<rect class="b" rx="0.8" x="1707.8" y="22" width="37.5" height="17.8" fill="#c8c8c8"/>
<text class="lg" x="1750.5" y="36.15">5-10cm depth layer</text>
<rect class="b" rx="0.8" x="1707.8" y="43.25" width="37.5" height="17.8" fill="#808080"/>
<text class="lg" x="1750.5" y="57.4">10-15cm depth layer</text>
<rect class="b" rx="0.8" x="1707.8" y="64.4" width="37.5" height="17.8" fill="#000000"/>
<text class="lg" x="1750.5" y="78.65">15-20cm depth layer</text>
</g>
</svg></body></html>
